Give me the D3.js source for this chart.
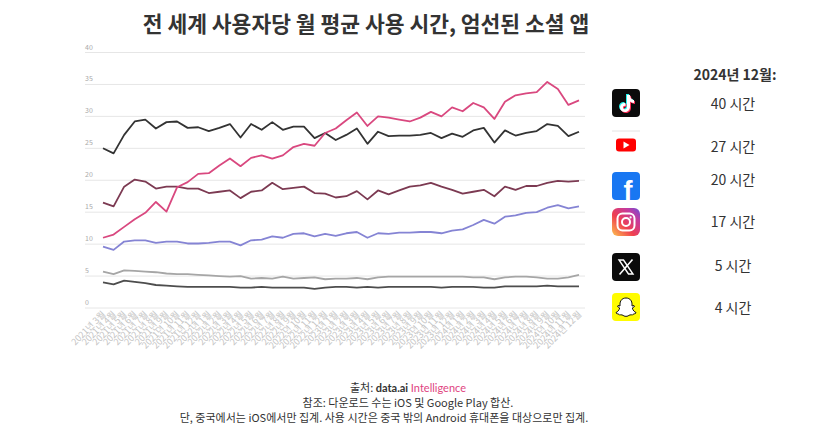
<!DOCTYPE html>
<html>
<head>
<meta charset="utf-8">
<script src="https://cdn.jsdelivr.net/npm/d3@7"></script>
<style>
  body { margin: 0; background: #fff; }
  svg { font-family: "Noto Sans CJK KR", "Noto Sans", sans-serif; }
</style>
</head>
<body>
<div id="chart"></div>
<script>
// Chart size
const width = 823;
const height = 441;

// Months on the x axis (Mar 2021 .. Dec 2024)
const months = [
  "2021년 3월","2021년 4월","2021년 5월","2021년 6월","2021년 7월","2021년 8월","2021년 9월","2021년 10월","2021년 11월","2021년 12월",
  "2022년 1월","2022년 2월","2022년 3월","2022년 4월","2022년 5월","2022년 6월","2022년 7월","2022년 8월","2022년 9월","2022년 10월","2022년 11월","2022년 12월",
  "2023년 1월","2023년 2월","2023년 3월","2023년 4월","2023년 5월","2023년 6월","2023년 7월","2023년 8월","2023년 9월","2023년 10월","2023년 11월","2023년 12월",
  "2024년 1월","2024년 2월","2024년 3월","2024년 4월","2024년 5월","2024년 6월","2024년 7월","2024년 8월","2024년 9월","2024년 10월","2024년 11월","2024년 12월"
];

// Monthly hours per user
const tiktok = [11.0, 11.5, 12.7, 13.9, 14.9, 16.6, 15.1, 18.9, 19.7, 21.0, 21.1, 22.3, 23.4, 22.2, 23.5, 23.9, 23.4, 23.9, 25.2, 25.7, 25.4, 27.4, 28.1, 29.4, 30.6, 28.5, 30.0, 29.8, 29.5, 29.2, 29.8, 30.7, 30.0, 31.4, 30.8, 32.1, 31.4, 29.6, 32.3, 33.3, 33.6, 33.8, 35.4, 34.3, 31.8, 32.5];
const youtube = [25.0, 24.2, 27.1, 29.2, 29.5, 28.1, 29.1, 29.2, 28.2, 28.3, 27.7, 28.2, 28.8, 26.7, 28.8, 27.9, 29.1, 27.9, 28.4, 28.4, 26.6, 27.4, 26.3, 27.1, 28.1, 25.7, 27.6, 26.9, 27.0, 27.0, 27.1, 27.4, 26.6, 27.3, 26.8, 27.8, 28.2, 25.9, 27.8, 27.0, 27.4, 27.7, 28.8, 28.5, 26.9, 27.6];
const facebook = [16.5, 15.9, 19.0, 20.1, 19.8, 18.7, 19.0, 19.0, 18.7, 18.7, 18.0, 18.2, 18.4, 17.2, 18.2, 18.4, 19.6, 18.6, 18.8, 19.0, 18.0, 17.9, 17.3, 17.5, 18.3, 17.0, 18.4, 17.8, 18.4, 19.0, 19.2, 19.6, 19.0, 18.5, 17.9, 18.2, 18.5, 17.5, 19.0, 18.5, 19.1, 19.1, 19.6, 19.9, 19.8, 19.9];
const instagram = [9.6, 9.1, 10.4, 10.6, 10.6, 10.2, 10.4, 10.4, 10.1, 10.1, 10.2, 10.4, 10.4, 9.8, 10.6, 10.7, 11.2, 11.0, 11.6, 11.7, 11.2, 11.6, 11.3, 11.7, 11.9, 11.0, 11.7, 11.6, 11.8, 11.8, 11.9, 11.9, 11.7, 12.1, 12.3, 13.0, 13.8, 13.2, 14.3, 14.5, 14.9, 15.0, 15.7, 16.1, 15.6, 15.9];
const xapp = [5.7, 5.3, 5.9, 5.8, 5.7, 5.6, 5.4, 5.3, 5.3, 5.2, 5.1, 5.0, 4.9, 5.0, 4.6, 4.7, 4.6, 4.9, 4.6, 4.7, 4.8, 4.5, 4.6, 4.6, 4.7, 4.5, 4.8, 4.9, 4.9, 4.9, 4.9, 4.9, 4.9, 4.9, 4.9, 4.8, 4.8, 4.5, 4.8, 4.9, 4.9, 4.8, 4.6, 4.6, 4.8, 5.2];
const snapchat = [4.0, 3.7, 4.3, 4.1, 3.9, 3.6, 3.5, 3.4, 3.3, 3.3, 3.3, 3.3, 3.3, 3.2, 3.2, 3.3, 3.2, 3.2, 3.2, 3.2, 3.0, 3.2, 3.3, 3.3, 3.2, 3.3, 3.2, 3.3, 3.3, 3.3, 3.3, 3.3, 3.2, 3.3, 3.3, 3.3, 3.2, 3.2, 3.4, 3.4, 3.4, 3.4, 3.5, 3.4, 3.4, 3.4];

const yTicks = [0, 5, 10, 15, 20, 25, 30, 35, 40];

// Legend on the right
const legendApps = ["tiktok", "youtube", "facebook", "instagram", "x", "snapchat"];
const legendLabels = ["40 시간", "27 시간", "20 시간", "17 시간", "5 시간", "4 시간"];

const series = [
  { name: "x", values: xapp, color: "#a6a6a6" },
  { name: "snapchat", values: snapchat, color: "#4d4d4d" },
  { name: "instagram", values: instagram, color: "#8584d4" },
  { name: "facebook", values: facebook, color: "#7c3a52" },
  { name: "youtube", values: youtube, color: "#333333" },
  { name: "tiktok", values: tiktok, color: "#d9487f" }
];

const svg = d3.select("#chart")
  .append("svg")
  .attr("width", width)
  .attr("height", height);

// Title
svg.append("text")
  .attr("x", 366)
  .attr("y", 32)
  .attr("text-anchor", "middle")
  .attr("font-size", 21.5)
  .attr("font-weight", "bold")
  .attr("fill", "#333")
  .text("전 세계 사용자당 월 평균 사용 시간, 엄선된 소셜 앱");

// Scales
const x = d3.scalePoint()
  .domain(months)
  .range([103, 579]);

const y = d3.scaleLinear()
  .domain([0, 40])
  .range([308, 52.5]);

// Gridlines and y labels
const grid = svg.append("g");
grid.selectAll("line")
  .data(yTicks)
  .enter()
  .append("line")
  .attr("x1", 85)
  .attr("x2", 585)
  .attr("y1", d => y(d))
  .attr("y2", d => y(d))
  .attr("stroke", "#e6e6e6")
  .attr("stroke-width", 1);

grid.selectAll("text")
  .data(yTicks)
  .enter()
  .append("text")
  .attr("x", 85)
  .attr("y", d => y(d) - 3)
  .attr("font-size", 7)
  .attr("fill", "#aaa")
  .text(d => d);

// X labels, rotated
svg.append("g")
  .selectAll("text")
  .data(months)
  .enter()
  .append("text")
  .attr("transform", d => `translate(${x(d) + 3},${315}) rotate(-45)`)
  .attr("text-anchor", "end")
  .attr("font-size", 9)
  .attr("fill", "#c4c4c4")
  .text(d => d);

// Lines
const line = d3.line()
  .x((d, i) => x(months[i]))
  .y(d => y(d));

svg.append("g")
  .selectAll("path")
  .data(series)
  .enter()
  .append("path")
  .attr("d", d => line(d.values))
  .attr("fill", "none")
  .attr("stroke", d => d.color)
  .attr("stroke-width", 1.8)
  .attr("stroke-linejoin", "round");

// Right panel
svg.append("text")
  .attr("x", 735)
  .attr("y", 80)
  .attr("text-anchor", "middle")
  .attr("font-size", 14)
  .attr("font-weight", "bold")
  .attr("fill", "#333")
  .text("2024년 12월:");

const iconY = [103, 145, 186, 222, 267, 307];
const textY = [104, 147, 180, 222, 266, 308];

svg.append("g")
  .selectAll("text")
  .data(legendLabels)
  .enter()
  .append("text")
  .attr("x", 733)
  .attr("y", (d, i) => textY[i] + 5)
  .attr("text-anchor", "middle")
  .attr("font-size", 14)
  .attr("fill", "#333")
  .text(d => d);

// Icons
const defs = svg.append("defs");
const ig = defs.append("linearGradient")
  .attr("id", "igGrad")
  .attr("x1", "0%").attr("y1", "100%")
  .attr("x2", "100%").attr("y2", "0%");
ig.append("stop").attr("offset", "0%").attr("stop-color", "#fdc34f");
ig.append("stop").attr("offset", "40%").attr("stop-color", "#f0404f");
ig.append("stop").attr("offset", "75%").attr("stop-color", "#c43a9f");
ig.append("stop").attr("offset", "100%").attr("stop-color", "#6a4fd8");

const icons = svg.append("g");
const cx = 626;

legendApps.forEach((app, i) => {
  const cy = iconY[i];
  const g = icons.append("g").attr("transform", `translate(${cx},${cy})`);
  if (app === "tiktok") {
    g.append("rect").attr("x", -14).attr("y", -14).attr("width", 28).attr("height", 28).attr("rx", 4).attr("fill", "#0b0b0b");
    const note = "M1,-8 L4,-8 C4,-5 6,-3 8,-3 L8,0 C6,0 5,-1 4,-1.5 L4,4 C4,7 1.5,9 -1,9 C-4,9 -6,7 -6,4.5 C-6,1.5 -3.5,-0.5 -0.5,0 L-0.5,3 C-2,2.5 -3,3.5 -3,4.5 C-3,5.5 -2,6.3 -1,6.3 C0.2,6.3 1,5.5 1,4 Z";
    g.append("path").attr("d", note).attr("fill", "#25f4ee").attr("transform", "translate(-1,-1)");
    g.append("path").attr("d", note).attr("fill", "#fe2c55").attr("transform", "translate(1,1)");
    g.append("path").attr("d", note).attr("fill", "#fff");
  } else if (app === "youtube") {
    g.append("line").attr("x1", -14).attr("x2", 14).attr("y1", -14).attr("y2", -14).attr("stroke", "#e4e4e4").attr("stroke-width", 1);
    g.append("rect").attr("x", -10).attr("y", -6.5).attr("width", 20).attr("height", 13).attr("rx", 3).attr("fill", "#f00");
    g.append("path").attr("d", "M-2.5,-3.5 L3.5,0 L-2.5,3.5 Z").attr("fill", "#fff");
  } else if (app === "facebook") {
    g.append("rect").attr("x", -14).attr("y", -14).attr("width", 28).attr("height", 28).attr("rx", 4).attr("fill", "#1877f2");
    g.append("text").attr("x", 2).attr("y", 14).attr("text-anchor", "middle")
      .attr("font-family", "Liberation Sans, Arial, sans-serif").attr("font-weight", "bold")
      .attr("font-size", 27).attr("fill", "#fff").text("f");
  } else if (app === "instagram") {
    g.append("rect").attr("x", -14).attr("y", -14).attr("width", 28).attr("height", 28).attr("rx", 6).attr("fill", "url(#igGrad)");
    g.append("rect").attr("x", -8.5).attr("y", -8.5).attr("width", 17).attr("height", 17).attr("rx", 5).attr("fill", "none").attr("stroke", "#fff").attr("stroke-width", 2);
    g.append("circle").attr("r", 4).attr("fill", "none").attr("stroke", "#fff").attr("stroke-width", 2);
    g.append("circle").attr("cx", 4.6).attr("cy", -4.6).attr("r", 1.1).attr("fill", "#fff");
  } else if (app === "x") {
    g.append("rect").attr("x", -14).attr("y", -14).attr("width", 28).attr("height", 28).attr("rx", 4).attr("fill", "#0b0b0b");
    g.append("path").attr("d", "M-7,-7 L-2.5,-7 L7,7 L2.5,7 Z").attr("fill", "none").attr("stroke", "#fff").attr("stroke-width", 1.4);
    g.append("path").attr("d", "M6.5,-7.5 L-6.5,7.5").attr("stroke", "#fff").attr("stroke-width", 1.6);
  } else if (app === "snapchat") {
    g.append("rect").attr("x", -14).attr("y", -14).attr("width", 28).attr("height", 28).attr("rx", 4).attr("fill", "#fffc00");
    g.append("path")
      .attr("d", "M0,-9 C4.5,-9 6,-5.5 6,-3 L6,-1 L8,-1.5 L8.5,-0.5 L6.3,1 C7,3.5 8.5,5 10,5.5 L9.5,6.5 C8,7 7,7 6.5,8 C5,7.5 3,8 2,9 C1,9.5 -1,9.5 -2,9 C-3,8 -5,7.5 -6.5,8 C-7,7 -8,7 -9.5,6.5 L-10,5.5 C-8.5,5 -7,3.5 -6.3,1 L-8.5,-0.5 L-8,-1.5 L-6,-1 L-6,-3 C-6,-5.5 -4.5,-9 0,-9 Z")
      .attr("fill", "#fff").attr("stroke", "#111").attr("stroke-width", 1);
  }
});

// Footer
const foot = svg.append("g").attr("font-size", 11).attr("fill", "#333").attr("text-anchor", "middle");
const src = foot.append("text").attr("x", 408).attr("y", 392);
src.append("tspan").text("출처: ");
src.append("tspan").attr("font-weight", "bold").attr("font-family", "Lato, sans-serif").text("data.ai ");
src.append("tspan").attr("fill", "#e0447f").attr("font-family", "Lato, sans-serif").text("Intelligence");

foot.append("text").attr("x", 408).attr("y", 407)
  .text("참조: 다운로드 수는 iOS 및 Google Play 합산.");
foot.append("text").attr("x", 384).attr("y", 422)
  .text("단, 중국에서는 iOS에서만 집계. 사용 시간은 중국 밖의 Android 휴대폰을 대상으로만 집계.");
</script>
</body>
</html>
